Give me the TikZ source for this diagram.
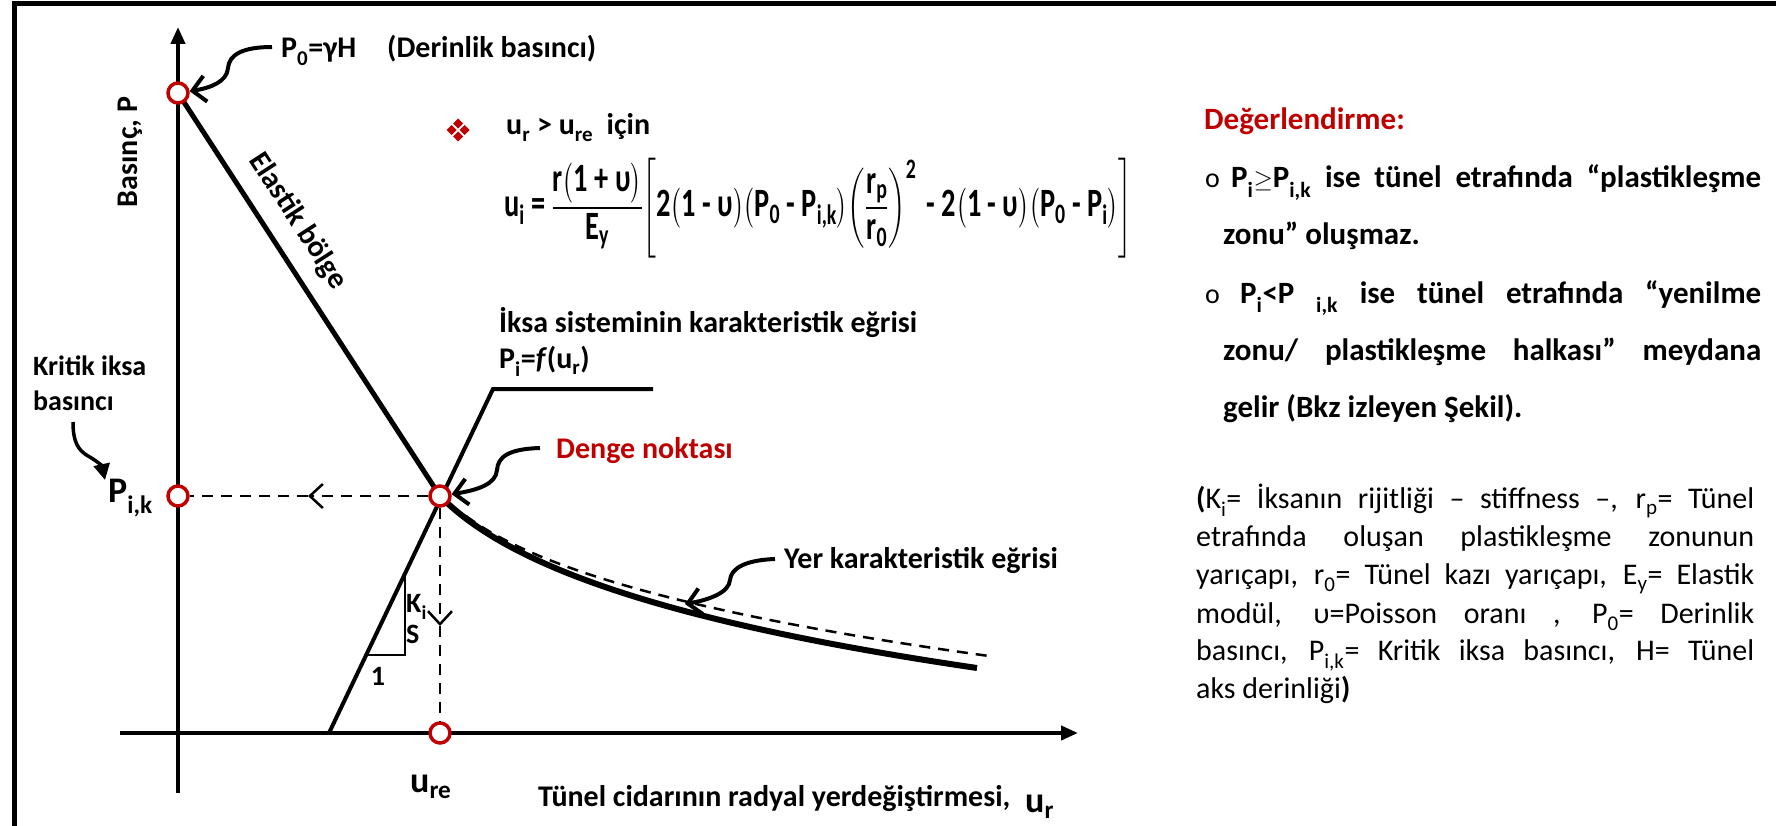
\documentclass[tikz,border=0pt]{standalone}
\usepackage{fontspec}
\usepackage{amsmath}
\usepackage{graphicx}
\setmainfont{Carlito}
\usetikzlibrary{arrows.meta}
\definecolor{dred}{HTML}{C00000}
\newcommand\sbs[1]{\raisebox{-0.08em}{\textsubscript{#1}}}
\tikzset{
  lbl/.style={font=\fontsize{30}{36}\selectfont\bfseries, inner sep=0pt},
  smalllbl/.style={font=\fontsize{28}{34}\selectfont\bfseries, inner sep=0pt},
  biglbl/.style={font=\fontsize{36}{42}\selectfont\bfseries, inner sep=0pt},
  panel/.style={font=\fontsize{31}{38}\selectfont\bfseries, inner sep=0pt, anchor=base west},
  bulletlbl/.style={font=\fontsize{28}{32}\selectfont, inner sep=0pt, anchor=base west},
  note/.style={font=\fontsize{30}{38}\selectfont, inner sep=0pt, anchor=base west},
  ptc/.style={circle, draw=dred, fill=white, line width=3.5pt, minimum size=20pt, inner sep=0pt},
  axisline/.style={line width=4pt, -{Triangle[length=17pt,width=14pt]}},
  thickline/.style={line width=5pt},
  supline/.style={line width=4pt},
  thinline/.style={line width=2pt},
  dashline/.style={line width=2.5pt, dash pattern=on 11pt off 8pt},
  chev/.style={-{Straight Barb[length=13pt,width=24pt]}},
  pointer/.style={line width=4pt, -{Straight Barb[length=13pt,width=26pt]}},
  fpointer/.style={line width=3.5pt, -{Triangle[length=16pt,width=16pt]}},
}
\begin{document}
\begin{tikzpicture}[x=1pt,y=-1pt]
\useasboundingbox (0,0) rectangle (1776,826);
% frame
\draw[line width=5pt] (14.5,830) -- (14.5,3.5) -- (1780,3.5);

% key coordinates
\coordinate (cP0) at (178,93);
\coordinate (cPik) at (178,496);
\coordinate (cDen) at (440,496);
\coordinate (cUre) at (440,733);
\coordinate (yb) at (178,793);
\coordinate (yt) at (178,27);
\coordinate (xl) at (120,733);
\coordinate (xr) at (1078,733);

% axes
\draw[axisline] (yb) -- (yt);
\draw[axisline] (xl) -- (xr);

% elastic line
\draw[thickline] (cP0) -- (cDen);

% support line
\coordinate (s0) at (329,733);
\coordinate (s1) at (493,389);
\coordinate (s2) at (653,389);
\draw[supline] (s0) -- (s1) -- (s2);

% slope triangle
\coordinate (tr1) at (405,572);
\coordinate (tr2) at (405,655);
\coordinate (tr3) at (364,655);
\draw[thinline] (tr1) -- (tr2) -- (tr3);
\node[smalllbl, anchor=base west] (ki) at (406,612) {K\sbs{i}};
\node[smalllbl, anchor=base west] (sl) at (406,643) {S};
\node[smalllbl, anchor=base] (one) at (378,685) {1};

% ground curve and dashed approximation
\coordinate (g1) at (977,668);
\coordinate (h0) at (466,516);
\coordinate (h1) at (989,656);
\draw[line width=6pt] (cDen) .. controls (505,562) and (650,620) .. (g1);
\draw[dashline] (h0) .. controls (525,560) and (655,610) .. (h1);

% points
\node[ptc] (p0) at (cP0) {};
\node[ptc] (pik) at (cPik) {};
\node[ptc] (den) at (cDen) {};
\node[ptc] (ure) at (cUre) {};

% dashed projections
\coordinate (hmid) at (308,496);
\coordinate (vmid) at (440,626);
\draw[dashline, chev] (den) -- (hmid);
\draw[dashline] (hmid) -- (pik);
\draw[dashline, chev] (den) -- (vmid);
\draw[dashline] (vmid) -- (ure);

% axis labels
\node[lbl, rotate=90] (ylab) at (130,152) {Basınç, P};
\node[lbl, anchor=base west] (xlab) at (538,806) {Tünel cidarının radyal yerdeğiştirmesi,};
\node[biglbl, anchor=base west] (ur) at (1025,812) {u\sbs{r}};
\node[biglbl, anchor=base west] (urel) at (410,792) {u\sbs{re}};
\node[biglbl, anchor=base west] (pikl) at (108,502) {P\sbs{i,k}};

% P0 label and pointer
\node[lbl, anchor=base west] (p0l) at (281,58) {P\sbs{0}=γH};
\node[lbl, anchor=base west] (derl) at (387,58) {(Derinlik basıncı)};
\coordinate (a1) at (272,47);
\draw[pointer] (a1) .. controls (242,47) and (229,55) .. (228,68) .. controls (227,82) and (210,88) .. (p0);

% elastic label
\node[lbl, rotate=-57] (elab) at (298,221) {Elastik bölge};

% kritik label and pointer
\node[smalllbl, anchor=base west] (kr1) at (33,375) {Kritik iksa};
\node[smalllbl, anchor=base west] (kr2) at (33,410) {basıncı};
\coordinate (k1) at (73,422);
\coordinate (k2) at (105,480);
\draw[fpointer] (k1) .. controls (73,442) and (78,450) .. (88,456) .. controls (97,461) and (102,466) .. (k2);

% support label
\node[lbl, anchor=base west] (supl1) at (499,332) {İksa sisteminin karakteristik eğrisi};
\node[lbl, anchor=base west] (supl2) at (499,368) {P\sbs{i}=\textit{f}(u\sbs{r})};

% denge label and pointer
\node[lbl, anchor=base west, text=dred] (denl) at (556,458) {Denge noktası};
\coordinate (d1) at (540,448);
\draw[pointer] (d1) .. controls (508,449) and (498,457) .. (497,470) .. controls (496,484) and (478,490) .. (den);

% yer label and pointer
\node[lbl, anchor=base west] (yerl) at (784,568) {Yer karakteristik eğrisi};
\coordinate (y1) at (775,559);
\coordinate (y2) at (685,604);
\draw[pointer] (y1) .. controls (746,560) and (731,568) .. (730,580) .. controls (729,593) and (708,600) .. (y2);

% formula
\foreach \dx/\dy in {-6.5/0,6.5/0,0/-6.5,0/6.5}
  \fill[dred] (458+\dx,130+\dy-5) -- (458+\dx+5,130+\dy) -- (458+\dx,130+\dy+5) -- (458+\dx-5,130+\dy) -- cycle;
\node[lbl, anchor=base west] (cond) at (506,135) {u\sbs{r} > u\sbs{re}~ için};
\node[lbl, anchor=west, font=\fontsize{30}{36}\selectfont\bfseries] (form) at (504,208)
 {\resizebox*{628pt}{100pt}{$\text{u}_{\text{i}}\text{ = }\dfrac{\text{r}\bigl(\text{1 + υ}\bigr)}{\text{E}_{\text{y}}}\Biggl[\text{2}\bigl(\text{1 - υ}\bigr)\bigl(\text{P}_{\text{0}}\text{ - P}_{\text{i,k}}\bigr)\!\left(\dfrac{\text{r}_{\text{p}}}{\text{r}_{\text{0}}}\right)^{\text{2}}\text{ - 2}\bigl(\text{1 - υ}\bigr)\bigl(\text{P}_{\text{0}}\text{ - P}_{\text{i}}\bigr)\Biggr]$}};

% right panel
\node[panel, text=dred] (deg) at (1204,130) {Değerlendirme:};
\node[bulletlbl] (b1) at (1205,188) {o};
\node[panel] (l1) at (1231,188) {\makebox[530pt][s]{P\sbs{i}$\geq$P\sbs{i,k} ise tünel etrafında “plastikleşme}};
\node[panel] (l2) at (1223,245) {zonu” oluşmaz.};
\node[bulletlbl] (b2) at (1205,303) {o};
\node[panel] (l3) at (1240,303) {\makebox[521pt][s]{P\sbs{i}<P \sbs{i,k} ise tünel etrafında “yenilme}};
\node[panel] (l4) at (1223,360) {\makebox[538pt][s]{zonu/ plastikleşme halkası” meydana}};
\node[panel] (l5) at (1223,417) {gelir (Bkz izleyen Şekil).};

\node[note] (n1) at (1196,508) {\makebox[558pt][s]{\textbf{(}K\sbs{i}= İksanın rijitliği – stiffness –, r\sbs{p}= Tünel}};
\node[note] (n2) at (1196,546) {\makebox[558pt][s]{etrafında oluşan plastikleşme zonunun}};
\node[note] (n3) at (1196,584) {\makebox[558pt][s]{yarıçapı, r\sbs{0}= Tünel kazı yarıçapı, E\sbs{y}= Elastik}};
\node[note] (n4) at (1196,623) {\makebox[558pt][s]{modül, υ=Poisson oranı , P\sbs{0}= Derinlik}};
\node[note] (n5) at (1196,660) {\makebox[558pt][s]{basıncı, P\sbs{i,k}= Kritik iksa basıncı, H= Tünel}};
\node[note] (n6) at (1196,698) {aks derinliği\textbf{)}};
\end{tikzpicture}
\end{document}
